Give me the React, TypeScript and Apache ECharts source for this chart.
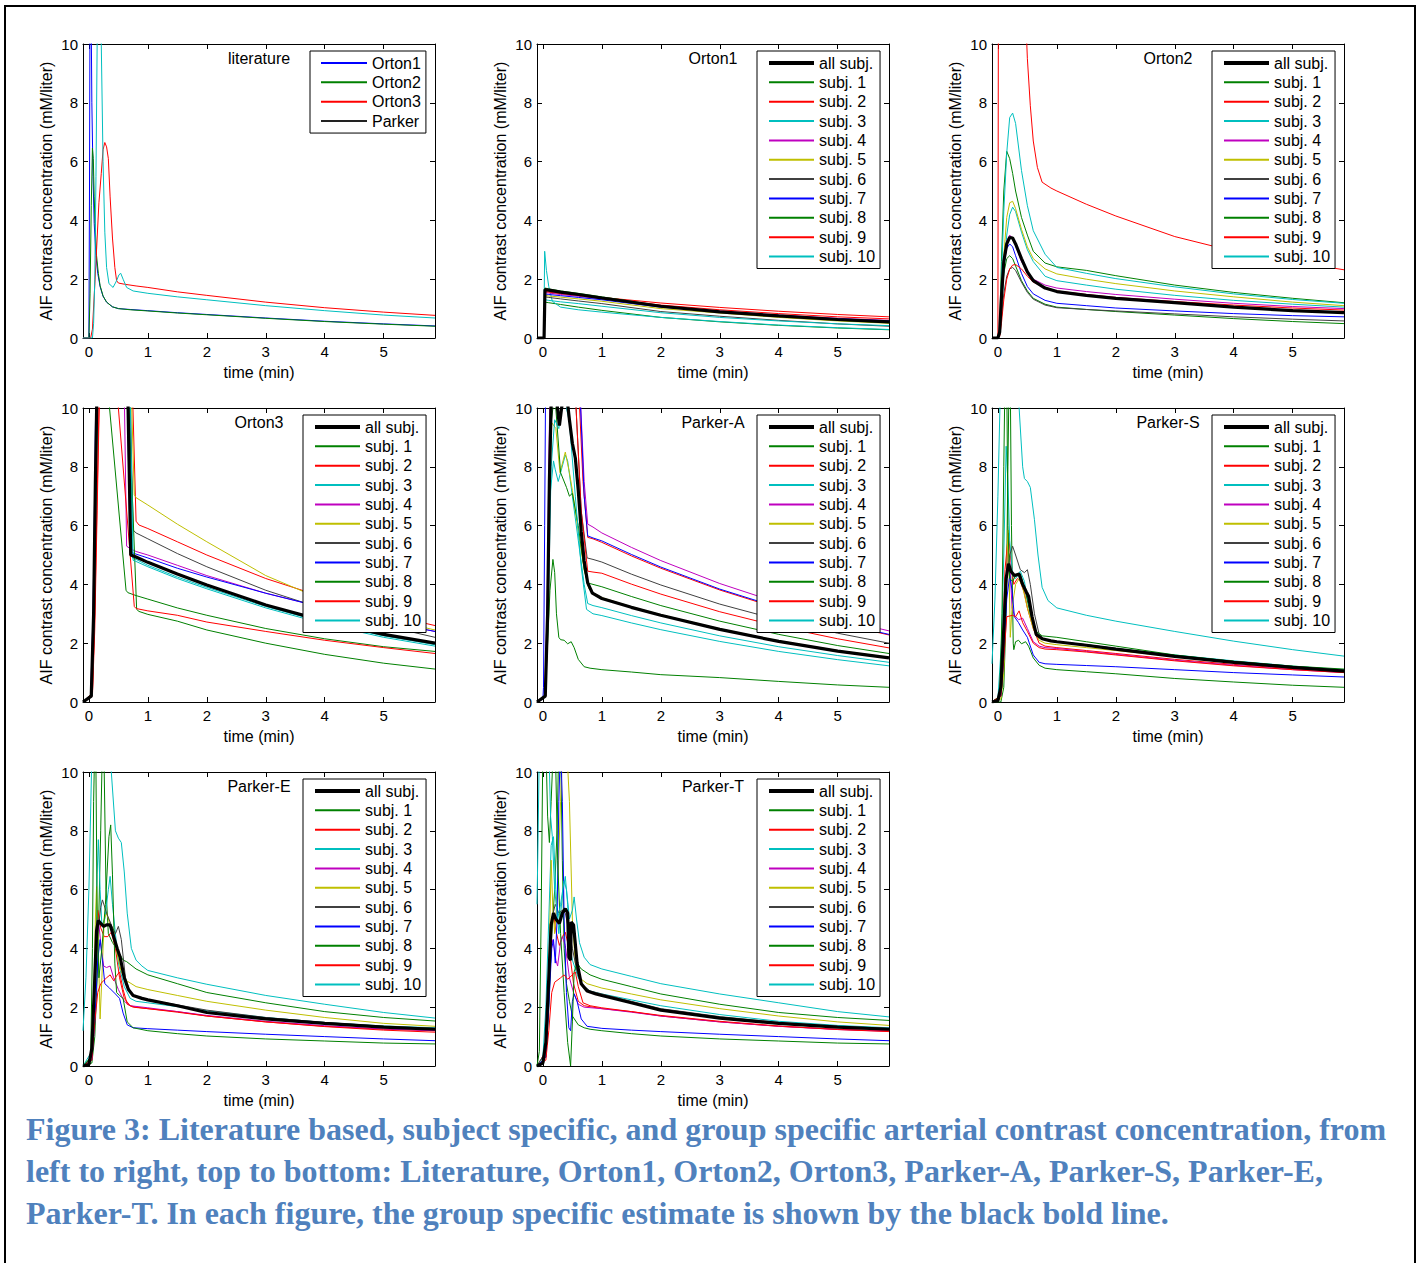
import React, { useEffect, useRef } from 'react';
import * as echarts from 'echarts';

type Pt = [number, number];

const FONT = '"Liberation Sans", Arial, Helvetica, sans-serif';
const SERIF = '"Liberation Serif", "Times New Roman", serif';

const PANEL_TITLES = ['literature', 'Orton1', 'Orton2', 'Orton3', 'Parker-A', 'Parker-S', 'Parker-E', 'Parker-T'];
const X_TICKS = [0, 1, 2, 3, 4, 5];
const X_NAME = 'time (min)';
const Y_NAME = 'AIF contrast concentration (mM/liter)';

const LIT_NAMES = ['Orton1', 'Orton2', 'Orton3', 'Parker'];
const LIT_COLORS = ['#0000ff', '#008000', '#ff0000', '#00bfbf'];
const SUBJ_NAMES = ['all subj.', 'subj. 1', 'subj. 2', 'subj. 3', 'subj. 4', 'subj. 5', 'subj. 6', 'subj. 7', 'subj. 8', 'subj. 9', 'subj. 10'];
const SUBJ_COLORS = ['#000000', '#008000', '#ff0000', '#00bfbf', '#bf00bf', '#bfbf00', '#404040', '#0000ff', '#008000', '#ff0000', '#00bfbf'];

const CAPTION = [
  'Figure 3: Literature based, subject specific, and group specific arterial contrast concentration, from',
  'left to right, top to bottom: Literature, Orton1, Orton2, Orton3, Parker-A, Parker-S, Parker-E,',
  'Parker-T. In each figure, the group specific estimate is shown by the black bold line.',
];

// ---------- literature ----------
const litOrton1: Pt[] = [[-0.1,0],[0,0],[0.01,5],[0.02,12],[0.035,12],[0.05,8],[0.07,5.5],[0.09,3.9],[0.12,2.8],[0.15,2.2],[0.19,1.75],[0.24,1.42],[0.3,1.22],[0.4,1.06],[0.5,1.0],[0.7,0.97],[1,0.93],[1.5,0.86],[2,0.8],[3,0.68],[4,0.57],[5,0.48],[5.87,0.41]];
const litOrton2: Pt[] = [[-0.1,0],[0,0],[0.02,1.5],[0.04,4.5],[0.06,6.45],[0.075,6.1],[0.09,4.8],[0.11,3.6],[0.13,2.8],[0.16,2.2],[0.19,1.78],[0.24,1.43],[0.3,1.22],[0.4,1.06],[0.5,1.0],[0.7,0.96],[1,0.92],[1.5,0.85],[2,0.79],[3,0.67],[4,0.56],[5,0.47],[5.87,0.4]];
const litOrton3: Pt[] = [[-0.1,0],[0.03,0],[0.06,0.3],[0.1,1.8],[0.13,3.0],[0.17,4.6],[0.21,5.6],[0.24,6.4],[0.27,6.65],[0.3,6.5],[0.33,6.1],[0.36,4.8],[0.4,3.4],[0.44,2.4],[0.47,1.95],[0.5,1.87],[0.6,1.83],[0.8,1.77],[1,1.72],[1.5,1.57],[2,1.45],[3,1.22],[4,1.03],[5,0.88],[5.87,0.77]];
const litParker: Pt[] = [[-0.1,0],[0.06,0],[0.08,0.5],[0.1,2.0],[0.12,5.5],[0.14,10],[0.16,13],[0.18,13],[0.21,10],[0.24,6],[0.27,3.6],[0.3,2.4],[0.34,1.85],[0.41,1.72],[0.47,1.95],[0.51,2.15],[0.54,2.2],[0.58,2.0],[0.64,1.72],[0.75,1.6],[1,1.52],[1.5,1.4],[2,1.3],[3,1.1],[4,0.93],[5,0.78],[5.87,0.68]];

// ---------- Orton1 (shared time grid) ----------
const ORTON1_T = [-0.1, 0.02, 0.035, 0.1, 0.3, 0.6, 1, 2, 3, 4, 5, 5.87];
const o1All = [0,0,1.65,1.63,1.56,1.48,1.36,1.08,0.89,0.75,0.63,0.55];
const o1S1 = [0,0,1.22,1.2,1.14,1.05,0.94,0.7,0.55,0.43,0.34,0.28];
const o1S2 = [0,0,1.6,1.59,1.54,1.47,1.38,1.19,1.04,0.91,0.8,0.72];
const o1S3: Pt[] = [[-0.1,0],[0.015,0],[0.03,2.95],[0.06,2.3],[0.1,1.75],[0.16,1.25],[0.3,1.05],[0.6,0.96],[1,0.88],[2,0.7],[3,0.56],[4,0.44],[5,0.35],[5.87,0.29]];
const o1S4 = [0,0,1.55,1.53,1.48,1.42,1.33,1.08,0.92,0.78,0.67,0.6];
const o1S5 = [0,0,1.45,1.43,1.39,1.33,1.25,1.0,0.85,0.7,0.58,0.5];
const o1S6 = [0,0,1.4,1.38,1.33,1.26,1.17,0.9,0.74,0.6,0.48,0.4];
const o1S7 = [0,0,1.5,1.48,1.44,1.38,1.3,1.05,0.9,0.76,0.65,0.58];
const o1S8 = [0,0,1.7,1.67,1.6,1.52,1.4,1.1,0.9,0.74,0.61,0.52];
const o1S9 = [0,0,1.58,1.56,1.51,1.45,1.36,1.12,0.96,0.83,0.72,0.65];
const o1S10 = [0,0,1.3,1.28,1.23,1.17,1.08,0.86,0.7,0.58,0.48,0.42];

// ---------- Orton2 (shared time grid) ----------
const ORTON2_T = [-0.1, 0, 0.03, 0.06, 0.1, 0.15, 0.2, 0.25, 0.3, 0.4, 0.5, 0.6, 0.8, 1, 1.5, 2, 3, 4, 5, 5.87];
const o2All = [0,0,0.2,1.4,2.6,3.2,3.42,3.4,3.2,2.7,2.25,1.95,1.7,1.58,1.45,1.35,1.2,1.05,0.93,0.86];
const o2S1 = [0,0,0.2,1.2,2.2,2.7,2.8,2.7,2.45,1.95,1.6,1.35,1.15,1.05,0.97,0.9,0.78,0.66,0.56,0.49];
const o2S2: Pt[] = [[-0.1,0],[0,0],[0.015,20],[0.45,12],[0.5,9.5],[0.55,7.9],[0.6,6.7],[0.67,5.8],[0.75,5.3],[0.9,5.1],[1,5.0],[1.5,4.55],[2,4.15],[3,3.45],[4,2.95],[5,2.6],[5.87,2.32]];
const o2S3 = [0,0,0.1,0.8,2.2,3.5,4.2,4.45,4.3,3.6,3.0,2.6,2.1,1.95,1.8,1.66,1.45,1.28,1.15,1.05];
const o2S4 = [0,0,0.2,1.4,2.6,3.3,3.5,3.4,3.15,2.6,2.25,2.0,1.8,1.7,1.58,1.48,1.32,1.18,1.07,1.0];
const o2S5 = [0,0,0.15,1.2,2.8,4.1,4.6,4.65,4.4,3.7,3.1,2.7,2.35,2.18,2.0,1.85,1.6,1.4,1.22,1.1];
const o2S6 = [0,0,0.1,0.7,1.5,2.1,2.35,2.4,2.3,1.9,1.55,1.32,1.12,1.03,0.97,0.92,0.82,0.72,0.64,0.58];
const o2S7 = [0,0,0.2,1.4,2.5,3.05,3.2,3.1,2.8,2.2,1.75,1.5,1.28,1.18,1.1,1.02,0.92,0.83,0.76,0.72];
const o2S8 = [0,0,0.3,2.6,5.0,6.35,6.1,5.6,5.0,4.1,3.5,2.95,2.55,2.42,2.3,2.12,1.8,1.55,1.35,1.2];
const o2S9 = [0,0,0.05,0.5,1.3,2.0,2.35,2.48,2.5,2.35,2.1,1.9,1.72,1.6,1.48,1.38,1.24,1.12,1.02,0.95];
const o2S10 = [0,0,0.2,2.0,4.3,6.3,7.5,7.65,7.3,5.7,4.5,3.65,2.85,2.4,2.2,2.02,1.74,1.5,1.31,1.18];

// ---------- Orton3 ----------
const o3All: Pt[] = [[-0.1,0],[0.04,0.2],[0.08,3],[0.11,7.5],[0.14,11],[0.4,15],[0.66,10.5],[0.71,5.0],[0.8,4.93],[1,4.75],[1.5,4.35],[2,3.98],[3,3.3],[4,2.75],[5,2.3],[5.87,2.0]];
const o3S1: Pt[] = [[-0.1,0],[0.05,0.3],[0.09,3],[0.12,7],[0.15,11],[0.2,13],[0.3,12],[0.35,10],[0.63,3.8],[0.66,3.72],[0.8,3.62],[1,3.5],[1.5,3.2],[2,2.95],[3,2.5],[4,2.15],[5,1.88],[5.87,1.72]];
const o3S2: Pt[] = [[-0.1,0],[0.06,0.2],[0.1,2.5],[0.14,6.5],[0.18,10.5],[0.3,14],[0.6,14],[0.74,10.5],[0.8,6.15],[0.85,6.02],[1,5.9],[1.5,5.45],[2,5.0],[3,4.2],[4,3.55],[5,3.0],[5.87,2.6]];
const o3S3: Pt[] = [[-0.1,0],[0.05,0.2],[0.09,3],[0.12,7.5],[0.15,11],[0.4,15],[0.69,10.5],[0.74,4.9],[0.8,4.85],[1,4.65],[1.5,4.25],[2,3.9],[3,3.25],[4,2.7],[5,2.25],[5.87,1.95]];
const o3S4: Pt[] = [[-0.1,0],[0.04,0.2],[0.08,3],[0.11,7.5],[0.14,11],[0.4,15],[0.6,10.5],[0.64,5.3],[0.7,5.22],[0.8,5.12],[1,5.0],[1.5,4.65],[2,4.3],[3,3.7],[4,3.2],[5,2.75],[5.87,2.4]];
const o3S5: Pt[] = [[-0.1,0],[0.04,0.2],[0.08,3],[0.11,7.5],[0.14,11],[0.4,15],[0.72,10.5],[0.77,7.05],[0.8,6.95],[1,6.7],[1.5,6.05],[2,5.45],[3,4.3],[4,3.45],[5,2.85],[5.87,2.45]];
const o3S6: Pt[] = [[-0.1,0],[0.04,0.2],[0.08,3],[0.11,7.5],[0.14,11],[0.4,15],[0.7,10.5],[0.75,5.85],[0.8,5.75],[1,5.55],[1.5,5.05],[2,4.6],[3,3.8],[4,3.15],[5,2.6],[5.87,2.2]];
const o3S7: Pt[] = [[-0.1,0],[0.03,0.2],[0.07,3],[0.1,7.5],[0.12,11],[0.4,15],[0.65,10.5],[0.7,5.1],[0.8,5.03],[1,4.9],[1.5,4.55],[2,4.25],[3,3.7],[4,3.2],[5,2.75],[5.87,2.4]];
const o3S8: Pt[] = [[-0.1,0],[0.05,0.3],[0.09,3],[0.12,7],[0.15,11],[0.3,15],[0.6,13],[0.68,10],[0.81,3.15],[0.85,3.08],[1,2.98],[1.5,2.75],[2,2.45],[3,2.0],[4,1.62],[5,1.32],[5.87,1.12]];
const o3S9: Pt[] = [[-0.1,0],[0.06,0.3],[0.1,3],[0.14,7],[0.18,11],[0.3,14],[0.45,12],[0.5,10],[0.77,3.25],[0.8,3.18],[1,3.1],[1.5,2.95],[2,2.72],[3,2.4],[4,2.1],[5,1.85],[5.87,1.65]];
const o3S10: Pt[] = [[-0.1,0],[0.05,0.2],[0.09,3],[0.12,7.5],[0.15,11],[0.4,15],[0.7,10.5],[0.75,4.82],[0.8,4.78],[1,4.6],[1.5,4.2],[2,3.85],[3,3.2],[4,2.65],[5,2.2],[5.87,1.9]];

// ---------- Parker-A ----------
const paAll: Pt[] = [[-0.1,0],[0.04,0.2],[0.08,3],[0.11,7.5],[0.15,11],[0.22,10.5],[0.28,9.4],[0.33,10.2],[0.4,10.5],[0.45,9.6],[0.5,8.8],[0.55,8.3],[0.6,7.2],[0.65,5.8],[0.7,4.8],[0.76,4.05],[0.84,3.7],[1,3.52],[1.5,3.22],[2,2.95],[3,2.47],[4,2.06],[5,1.73],[5.87,1.5]];
const paS1: Pt[] = [[-0.1,0],[0.03,0.2],[0.08,2],[0.12,3.8],[0.17,4.85],[0.2,4.4],[0.23,3.0],[0.27,2.2],[0.3,2.12],[0.36,2.1],[0.42,1.98],[0.48,2.05],[0.53,1.85],[0.6,1.45],[0.7,1.2],[0.8,1.15],[1,1.1],[1.5,1.02],[2,0.93],[3,0.83],[4,0.7],[5,0.58],[5.87,0.5]];
const paS2: Pt[] = [[-0.1,0],[0.04,0.2],[0.08,3.5],[0.11,8],[0.14,12],[0.4,15],[0.6,11],[0.68,7.5],[0.76,5.6],[0.85,5.55],[1,5.43],[1.5,4.97],[2,4.55],[3,3.81],[4,3.18],[5,2.67],[5.87,2.28]];
const paS3: Pt[] = [[-0.1,0],[0.04,0.2],[0.08,3],[0.12,7],[0.18,8.2],[0.21,7.9],[0.26,7.5],[0.3,7.8],[0.38,8.4],[0.42,8.2],[0.5,7.0],[0.6,5.5],[0.7,4.0],[0.76,3.35],[0.85,3.28],[1,3.21],[1.5,2.94],[2,2.69],[3,2.25],[4,1.88],[5,1.58],[5.87,1.35]];
const paS4: Pt[] = [[-0.1,0],[0.03,0.2],[0.07,3],[0.1,8],[0.13,12],[0.4,15],[0.62,11],[0.7,7.5],[0.76,6.05],[0.85,5.95],[1,5.75],[1.5,5.26],[2,4.81],[3,4.03],[4,3.37],[5,2.82],[5.87,2.42]];
const paS5: Pt[] = [[-0.1,0],[0.04,0.2],[0.08,3],[0.11,7],[0.15,9.5],[0.22,9.3],[0.29,7.8],[0.38,8.5],[0.45,7.8],[0.5,7.2],[0.6,5.8],[0.7,4.5],[0.78,3.85],[0.85,3.72],[1,3.55],[1.5,3.24],[2,2.97],[3,2.49],[4,2.08],[5,1.75],[5.87,1.52]];
const paS6: Pt[] = [[-0.1,0],[0.04,0.2],[0.08,3.5],[0.11,8],[0.14,12],[0.35,14],[0.55,10.5],[0.65,6.5],[0.75,4.9],[0.85,4.85],[1,4.76],[1.5,4.35],[2,3.98],[3,3.33],[4,2.79],[5,2.34],[5.87,2.0]];
const paS7: Pt[] = [[-0.1,0],[0,0.1],[0.01,0.5],[0.03,6],[0.05,12],[0.4,15],[0.62,11],[0.7,7],[0.76,5.65],[0.85,5.58],[1,5.48],[1.5,5.02],[2,4.59],[3,3.84],[4,3.21],[5,2.69],[5.87,2.3]];
const paS8: Pt[] = [[-0.1,0],[0.04,0.2],[0.08,3],[0.11,7],[0.14,9.5],[0.2,10.5],[0.3,7.8],[0.4,7.3],[0.45,7.0],[0.5,7.1],[0.6,6.0],[0.7,4.5],[0.76,4.05],[0.85,4.0],[1,3.92],[1.5,3.59],[2,3.28],[3,2.75],[4,2.3],[5,1.92],[5.87,1.65]];
const paS9: Pt[] = [[-0.1,0],[0.05,0.2],[0.09,3.5],[0.12,8],[0.15,12],[0.35,14],[0.55,10.5],[0.65,6.5],[0.76,4.45],[0.85,4.42],[1,4.38],[1.5,4.01],[2,3.67],[3,3.07],[4,2.57],[5,2.15],[5.87,1.84]];
const paS10: Pt[] = [[-0.1,0],[0.04,0.2],[0.09,3],[0.14,8],[0.2,9.6],[0.27,9.3],[0.35,10.5],[0.45,9.5],[0.55,7],[0.65,4.6],[0.74,3.15],[0.85,3.0],[1,2.94],[1.5,2.69],[2,2.46],[3,2.06],[4,1.72],[5,1.44],[5.87,1.23]];

// ---------- Parker-S ----------
const psAll: Pt[] = [[-0.1,0],[0,0.05],[0.05,0.5],[0.1,2.5],[0.14,4.2],[0.18,4.7],[0.22,4.45],[0.28,4.3],[0.36,4.35],[0.42,4.0],[0.48,3.75],[0.52,3.6],[0.58,2.9],[0.65,2.3],[0.75,2.15],[0.9,2.08],[1,2.05],[1.5,1.93],[2,1.8],[3,1.55],[4,1.35],[5,1.18],[5.87,1.05]];
const psS1: Pt[] = [[-0.1,0],[0.05,0],[0.1,0.5],[0.14,3],[0.17,8],[0.19,11],[0.21,11],[0.23,6],[0.26,2],[0.27,1.78],[0.3,2.05],[0.35,2.1],[0.4,1.98],[0.47,2.05],[0.52,1.9],[0.6,1.5],[0.7,1.25],[0.8,1.15],[1,1.1],[1.5,1.03],[2,0.96],[3,0.8],[4,0.68],[5,0.57],[5.87,0.5]];
const psS2: Pt[] = [[-0.1,0],[0.03,0.2],[0.08,2],[0.12,4.5],[0.18,5.75],[0.22,4.8],[0.27,4.0],[0.33,4.2],[0.38,4.1],[0.45,3.7],[0.5,3.2],[0.6,2.5],[0.7,2.0],[0.8,1.9],[1,1.85],[1.5,1.75],[2,1.65],[3,1.45],[4,1.28],[5,1.13],[5.87,1.03]];
const psS3: Pt[] = [[-0.1,0],[0,0.1],[0.06,2],[0.1,5],[0.14,8.7],[0.17,7.5],[0.2,5.5],[0.25,4.3],[0.3,4.2],[0.38,4.45],[0.45,4.1],[0.5,3.5],[0.6,2.6],[0.7,2.2],[0.8,2.1],[1,2.05],[1.5,1.95],[2,1.82],[3,1.6],[4,1.4],[5,1.22],[5.87,1.1]];
const psS4: Pt[] = [[-0.1,0],[0.04,0.2],[0.08,1],[0.12,3.5],[0.17,5.2],[0.2,4.8],[0.24,3.2],[0.28,2.95],[0.35,2.8],[0.42,2.85],[0.5,2.5],[0.6,2.05],[0.7,1.9],[0.8,1.85],[1,1.82],[1.5,1.72],[2,1.62],[3,1.42],[4,1.25],[5,1.1],[5.87,1.0]];
const psS5: Pt[] = [[-0.1,0],[0.05,0.1],[0.1,1],[0.14,3.5],[0.17,5.85],[0.19,4.5],[0.21,2.2],[0.24,3.2],[0.3,4.0],[0.36,4.2],[0.42,3.9],[0.5,3.2],[0.6,2.5],[0.7,2.1],[0.8,2.0],[1,1.95],[1.5,1.85],[2,1.75],[3,1.55],[4,1.38],[5,1.2],[5.87,1.06]];
const psS6: Pt[] = [[-0.1,0],[0.05,0.2],[0.1,2],[0.15,4.2],[0.2,5.0],[0.25,5.3],[0.3,5.0],[0.38,4.5],[0.45,4.4],[0.5,4.5],[0.55,4.0],[0.62,3.0],[0.7,2.3],[0.8,2.1],[1,2.05],[1.5,1.95],[2,1.82],[3,1.58],[4,1.38],[5,1.2],[5.87,1.08]];
const psS7: Pt[] = [[-0.1,0],[0.05,0.2],[0.1,1.5],[0.15,3.5],[0.2,4.3],[0.24,3.8],[0.28,2.9],[0.35,2.7],[0.42,2.45],[0.5,2.2],[0.6,1.6],[0.7,1.35],[0.8,1.3],[1,1.28],[1.5,1.24],[2,1.2],[3,1.1],[4,1.0],[5,0.92],[5.87,0.85]];
const psS8: Pt[] = [[-0.1,0],[0.03,0.2],[0.07,3],[0.1,8],[0.12,11],[0.15,11],[0.17,6],[0.2,4.2],[0.25,4.1],[0.3,4.3],[0.38,4.35],[0.45,3.9],[0.55,3.0],[0.65,2.4],[0.75,2.25],[1,2.2],[1.5,2.05],[2,1.9],[3,1.6],[4,1.38],[5,1.22],[5.87,1.12]];
const psS9: Pt[] = [[-0.1,0],[0.05,0.2],[0.1,1.5],[0.15,2.9],[0.25,2.95],[0.3,2.9],[0.36,3.1],[0.42,2.7],[0.5,2.4],[0.6,2.0],[0.7,1.85],[0.8,1.8],[1,1.78],[1.5,1.7],[2,1.6],[3,1.4],[4,1.23],[5,1.1],[5.87,1.0]];
const psS10: Pt[] = [[-0.1,1.3],[-0.05,3.5],[0,7],[0.04,10.5],[0.1,14],[0.3,13],[0.36,10],[0.42,8],[0.45,7.6],[0.5,7.5],[0.55,7.3],[0.62,6.2],[0.68,5.0],[0.75,3.9],[0.85,3.45],[1,3.2],[1.5,2.95],[2,2.75],[3,2.4],[4,2.07],[5,1.78],[5.87,1.56]];

// ---------- Parker-E ----------
const peAll: Pt[] = [[-0.1,0],[0,0.05],[0.05,0.6],[0.1,3.0],[0.13,4.6],[0.16,4.95],[0.2,4.85],[0.25,4.75],[0.3,4.8],[0.36,4.8],[0.42,4.4],[0.48,4.0],[0.53,3.7],[0.6,3.0],[0.67,2.6],[0.75,2.4],[0.9,2.3],[1,2.25],[1.5,2.05],[2,1.82],[3,1.6],[4,1.45],[5,1.32],[5.87,1.25]];
const peS1: Pt[] = [[-0.1,0],[0.05,0.1],[0.1,1],[0.15,3.5],[0.2,8],[0.23,11],[0.26,10],[0.29,6],[0.33,4.5],[0.4,4.2],[0.5,3.9],[0.58,3.6],[0.64,3.55],[0.8,3.3],[1,3.1],[1.5,2.8],[2,2.5],[3,2.15],[4,1.85],[5,1.65],[5.87,1.53]];
const peS2: Pt[] = [[-0.1,0],[0.05,0.3],[0.1,3],[0.13,5.0],[0.15,5.3],[0.2,4.7],[0.26,4.4],[0.32,4.4],[0.38,4.55],[0.45,4.0],[0.52,3.0],[0.6,2.3],[0.7,2.05],[0.8,2.0],[1,1.95],[1.5,1.85],[2,1.7],[3,1.5],[4,1.35],[5,1.25],[5.87,1.2]];
const peS3: Pt[] = [[-0.1,0],[0.05,0.5],[0.1,3],[0.14,6.5],[0.16,7.7],[0.19,6.0],[0.22,4.8],[0.27,5.0],[0.33,6.0],[0.36,6.45],[0.4,5.5],[0.45,4.5],[0.5,3.5],[0.6,2.7],[0.7,2.3],[0.8,2.2],[1,2.15],[1.5,2.02],[2,1.88],[3,1.65],[4,1.48],[5,1.36],[5.87,1.3]];
const peS4: Pt[] = [[-0.1,0],[0.05,0.3],[0.1,2.5],[0.14,4.8],[0.16,5.0],[0.2,4.2],[0.25,3.4],[0.3,3.35],[0.36,3.4],[0.42,3.0],[0.5,2.6],[0.6,2.2],[0.7,2.05],[1,1.98],[1.5,1.85],[2,1.72],[3,1.52],[4,1.37],[5,1.26],[5.87,1.2]];
const peS5: Pt[] = [[-0.1,0],[0.05,0.2],[0.08,2],[0.11,5],[0.13,6.1],[0.16,4],[0.19,1.6],[0.22,3],[0.26,5.0],[0.3,5.2],[0.36,4.8],[0.42,4.5],[0.48,3.8],[0.55,3.2],[0.64,2.9],[0.8,2.7],[1,2.6],[1.5,2.4],[2,2.2],[3,1.9],[4,1.65],[5,1.45],[5.87,1.35]];
const peS6: Pt[] = [[-0.1,0],[0.05,0.3],[0.1,2.5],[0.15,4.5],[0.2,5.4],[0.23,5.65],[0.3,5.2],[0.38,4.8],[0.45,4.5],[0.5,4.75],[0.55,4.3],[0.62,3.0],[0.7,2.5],[0.8,2.35],[1,2.25],[1.5,2.08],[2,1.9],[3,1.65],[4,1.48],[5,1.35],[5.87,1.28]];
const peS7: Pt[] = [[-0.1,0],[0.05,0.2],[0.1,1.5],[0.15,3.6],[0.19,4.3],[0.23,3.6],[0.27,2.8],[0.35,2.65],[0.45,2.45],[0.52,2.3],[0.58,1.8],[0.65,1.4],[0.75,1.3],[1,1.27],[1.5,1.22],[2,1.17],[3,1.08],[4,1.0],[5,0.92],[5.87,0.86]];
const peS8: Pt[] = [[-0.1,0],[0.03,0.3],[0.06,4],[0.08,9],[0.1,11],[0.12,10],[0.14,5],[0.17,3],[0.22,4],[0.28,5.5],[0.34,7.8],[0.37,8.2],[0.4,6.5],[0.44,3.5],[0.47,2.5],[0.52,2.4],[0.58,2.3],[0.65,1.5],[0.75,1.3],[1,1.2],[1.5,1.1],[2,1.02],[3,0.92],[4,0.85],[5,0.78],[5.87,0.75]];
const peS9: Pt[] = [[-0.1,0],[0.05,0.2],[0.1,1.5],[0.15,2.5],[0.2,2.8],[0.3,3.0],[0.36,3.1],[0.42,2.9],[0.48,3.1],[0.52,3.2],[0.58,2.6],[0.65,2.1],[0.75,2.0],[1,1.95],[1.5,1.83],[2,1.7],[3,1.5],[4,1.34],[5,1.22],[5.87,1.15]];
const peS10: Pt[] = [[-0.1,1.2],[-0.05,3],[0,6],[0.05,10.5],[0.1,14],[0.3,13],[0.38,10],[0.45,8.0],[0.5,7.75],[0.55,7.6],[0.6,6.6],[0.65,5.2],[0.72,4.0],[0.8,3.6],[0.9,3.4],[1,3.25],[1.5,3.0],[2,2.78],[3,2.4],[4,2.1],[5,1.82],[5.87,1.63]];

// ---------- Parker-T ----------
const ptAll: Pt[] = [[-0.1,0],[0,0.1],[0.05,0.8],[0.1,3],[0.14,4.8],[0.18,5.2],[0.22,5.0],[0.28,4.85],[0.33,5.2],[0.38,5.35],[0.42,5.2],[0.44,3.7],[0.47,3.6],[0.48,4.9],[0.52,4.8],[0.58,3.5],[0.65,2.8],[0.75,2.55],[0.9,2.45],[1,2.4],[1.5,2.15],[2,1.9],[3,1.63],[4,1.45],[5,1.32],[5.87,1.25]];
const ptS1: Pt[] = [[-0.1,0],[0.05,0.3],[0.1,2],[0.15,4.5],[0.2,6],[0.24,8],[0.27,11],[0.3,11],[0.33,7],[0.36,4],[0.4,2.8],[0.45,2.2],[0.5,1.7],[0.6,1.4],[0.7,1.3],[0.8,1.25],[1,1.2],[1.5,1.1],[2,1.02],[3,0.92],[4,0.85],[5,0.78],[5.87,0.75]];
const ptS2: Pt[] = [[-0.1,0],[0.05,0.5],[0.1,3],[0.14,4.8],[0.18,5.2],[0.22,4.6],[0.28,4.1],[0.33,4.4],[0.38,4.55],[0.42,4.2],[0.47,3.6],[0.52,2.8],[0.6,2.2],[0.7,2.05],[1,1.95],[1.5,1.85],[2,1.7],[3,1.5],[4,1.35],[5,1.25],[5.87,1.2]];
const ptS3: Pt[] = [[-0.1,0],[0,0.3],[0.05,2],[0.1,5],[0.14,7.5],[0.18,7.8],[0.22,6],[0.27,4.5],[0.33,5.8],[0.38,6.45],[0.42,5.5],[0.46,4.0],[0.5,3.6],[0.6,3.0],[0.7,2.7],[0.8,2.55],[1,2.45],[1.5,2.25],[2,2.05],[3,1.75],[4,1.52],[5,1.38],[5.87,1.3]];
const ptS4: Pt[] = [[-0.1,0],[0.05,0.3],[0.1,2.5],[0.14,4.0],[0.17,4.3],[0.22,3.6],[0.25,3.4],[0.3,4.2],[0.33,4.4],[0.38,4.1],[0.45,3.0],[0.52,2.5],[0.6,2.1],[0.7,2.0],[1,1.95],[1.5,1.83],[2,1.7],[3,1.5],[4,1.35],[5,1.24],[5.87,1.18]];
const ptS5: Pt[] = [[-0.1,0],[0.05,0.3],[0.1,3],[0.14,7],[0.17,5.3],[0.2,4.5],[0.25,6],[0.3,9],[0.34,11],[0.4,11],[0.45,9],[0.5,5],[0.55,3.5],[0.62,3.0],[0.75,2.8],[1,2.65],[1.5,2.45],[2,2.25],[3,1.95],[4,1.7],[5,1.5],[5.87,1.38]];
const ptS6: Pt[] = [[-0.1,0],[0.05,0.5],[0.1,3],[0.15,5],[0.21,5.5],[0.27,5.2],[0.33,5.3],[0.38,5.2],[0.45,4.5],[0.5,4.0],[0.58,3.2],[0.65,2.8],[0.8,2.55],[1,2.45],[1.5,2.2],[2,1.95],[3,1.68],[4,1.48],[5,1.35],[5.87,1.28]];
const ptS7: Pt[] = [[-0.1,0],[0.05,0.3],[0.1,2],[0.15,4.0],[0.18,4.3],[0.21,3.5],[0.24,5],[0.27,9],[0.3,11],[0.33,9],[0.36,5],[0.4,2.5],[0.44,1.3],[0.47,1.2],[0.5,2.2],[0.53,2.45],[0.58,2.2],[0.65,1.6],[0.75,1.35],[1,1.28],[1.5,1.22],[2,1.17],[3,1.08],[4,1.0],[5,0.92],[5.87,0.86]];
const ptS8: Pt[] = [[-0.1,0],[-0.06,0.5],[-0.03,5],[0,11],[0.05,11],[0.08,8.5],[0.11,7.6],[0.14,9],[0.18,11],[0.22,10],[0.25,7],[0.3,4.5],[0.36,2.5],[0.42,0.8],[0.47,0],[0.5,1.5],[0.53,3.2],[0.58,3.5],[0.65,3.3],[0.8,3.1],[1,2.95],[1.5,2.7],[2,2.45],[3,2.1],[4,1.82],[5,1.65],[5.87,1.55]];
const ptS9: Pt[] = [[-0.1,0],[0.05,0.2],[0.1,1.2],[0.15,2.5],[0.2,2.85],[0.3,3.0],[0.36,3.1],[0.42,2.95],[0.5,3.1],[0.55,3.2],[0.6,2.7],[0.68,2.15],[0.8,2.05],[1,1.98],[1.5,1.85],[2,1.72],[3,1.52],[4,1.36],[5,1.24],[5.87,1.17]];
const ptS10: Pt[] = [[-0.1,5.5],[-0.08,8],[-0.06,11],[0.05,13],[0.1,11],[0.13,8.5],[0.16,7.8],[0.2,6.0],[0.25,5.0],[0.3,5.5],[0.36,6.3],[0.4,6.0],[0.45,5.0],[0.5,5.3],[0.53,5.75],[0.57,5.0],[0.62,4.2],[0.7,3.7],[0.8,3.45],[1,3.3],[1.5,3.05],[2,2.8],[3,2.45],[4,2.15],[5,1.85],[5.87,1.67]];

// ---------- layout ----------
const COL_LEFT = [83, 537, 992];
const ROW_TOP = [44, 408, 772];
const GRID_W = 352;
const GRID_H = 294;

function zip(t: number[], v: number[]): Pt[] {
  return t.map((x, i) => [x, v[i]] as Pt);
}

const SUBJ_ORDER = [1, 2, 3, 4, 5, 6, 7, 8, 9, 10, 0];

const PANEL_CURVES: Pt[][][] = [
  [litOrton1, litOrton2, litOrton3, litParker],
  [zip(ORTON1_T, o1All), zip(ORTON1_T, o1S1), zip(ORTON1_T, o1S2), o1S3, zip(ORTON1_T, o1S4), zip(ORTON1_T, o1S5), zip(ORTON1_T, o1S6), zip(ORTON1_T, o1S7), zip(ORTON1_T, o1S8), zip(ORTON1_T, o1S9), zip(ORTON1_T, o1S10)],
  [zip(ORTON2_T, o2All), zip(ORTON2_T, o2S1), o2S2, zip(ORTON2_T, o2S3), zip(ORTON2_T, o2S4), zip(ORTON2_T, o2S5), zip(ORTON2_T, o2S6), zip(ORTON2_T, o2S7), zip(ORTON2_T, o2S8), zip(ORTON2_T, o2S9), zip(ORTON2_T, o2S10)],
  [o3All, o3S1, o3S2, o3S3, o3S4, o3S5, o3S6, o3S7, o3S8, o3S9, o3S10],
  [paAll, paS1, paS2, paS3, paS4, paS5, paS6, paS7, paS8, paS9, paS10],
  [psAll, psS1, psS2, psS3, psS4, psS5, psS6, psS7, psS8, psS9, psS10],
  [peAll, peS1, peS2, peS3, peS4, peS5, peS6, peS7, peS8, peS9, peS10],
  [ptAll, ptS1, ptS2, ptS3, ptS4, ptS5, ptS6, ptS7, ptS8, ptS9, ptS10],
];

function buildOption() {
  const grid: any[] = [];
  const xAxis: any[] = [];
  const yAxis: any[] = [];
  const series: any[] = [];
  const legend: any[] = [];
  const graphic: any[] = [];

  const axisLine = { show: true, onZero: false, lineStyle: { color: '#000', width: 1 } };
  const tick = { show: true, inside: true, length: 5, lineStyle: { color: '#000', width: 1 } };

  PANEL_TITLES.forEach((title, p) => {
    const col = p % 3;
    const row = Math.floor(p / 3);
    const left = COL_LEFT[col];
    const top = ROW_TOP[row];
    grid.push({ left, top, width: GRID_W, height: GRID_H, show: false, outerBoundsMode: 'none' });

    xAxis.push({
      type: 'value', gridIndex: p, min: -0.1, max: 5.87, position: 'bottom',
      axisLine, axisTick: { ...tick, customValues: X_TICKS },
      axisLabel: { customValues: X_TICKS, fontSize: 15, color: '#000', fontFamily: FONT, margin: 6 },
      splitLine: { show: false },
      name: X_NAME, nameLocation: 'middle', nameGap: 26,
      nameTextStyle: { fontSize: 16, color: '#000', fontFamily: FONT },
    });
    xAxis.push({
      type: 'value', gridIndex: p, min: -0.1, max: 5.87, position: 'top',
      axisLine, axisTick: { ...tick, customValues: X_TICKS },
      axisLabel: { show: false }, splitLine: { show: false },
    });
    yAxis.push({
      type: 'value', gridIndex: p, min: 0, max: 10, interval: 2, position: 'left',
      axisLine, axisTick: tick,
      axisLabel: { fontSize: 15, color: '#000', fontFamily: FONT, margin: 5 },
      splitLine: { show: false },
      name: Y_NAME, nameLocation: 'middle', nameGap: 29,
      nameTextStyle: { fontSize: 16, color: '#000', fontFamily: FONT },
    });
    yAxis.push({
      type: 'value', gridIndex: p, min: 0, max: 10, interval: 2, position: 'right',
      axisLine, axisTick: tick, axisLabel: { show: false }, splitLine: { show: false },
    });

    const curves = PANEL_CURVES[p];
    const isLit = p === 0;
    const names = isLit ? LIT_NAMES : SUBJ_NAMES;
    const colors = isLit ? LIT_COLORS : SUBJ_COLORS;
    const order = isLit ? [0, 1, 2, 3] : SUBJ_ORDER;
    order.forEach((k) => {
      const bold = !isLit && k === 0;
      series.push({
        type: 'line', name: names[k], xAxisIndex: 2 * p, yAxisIndex: 2 * p,
        data: curves[k], symbol: 'none', showSymbol: false, clip: true, silent: true,
        lineStyle: { color: colors[k], width: bold ? 3.2 : 1 },
        itemStyle: { color: colors[k] },
        emphasis: { disabled: true }, z: bold ? 3 : 2,
      });
    });

    const legendData = isLit
      ? [{ name: 'Orton1' }, { name: 'Orton2' }, { name: 'Orton3' }, { name: 'Parker', lineStyle: { color: '#222' } }]
      : SUBJ_NAMES.map((n, k) => (k === 0 ? { name: n, lineStyle: { width: 4 } } : { name: n }));
    legend.push({
      left: isLit ? 310 : left + 220, top: top + 7, orient: 'vertical',
      data: legendData, selectedMode: false,
      itemWidth: isLit ? 46 : 45, itemHeight: 10, itemGap: 3.35,
      itemStyle: { opacity: 0 },
      padding: [4, 5, 4, 10],
      borderColor: '#000', borderWidth: 1, backgroundColor: '#fff',
      textStyle: { fontSize: 16, color: '#000', fontFamily: FONT, lineHeight: 16 },
    });

    graphic.push({
      type: 'text', x: left + 176, y: top + 14, silent: true,
      style: { text: title, fontSize: 16, fontFamily: FONT, fill: '#000', align: 'center', verticalAlign: 'middle' },
    });
  });

  graphic.push({
    type: 'rect', silent: true,
    shape: { x: 5, y: 6, width: 1410, height: 1280 },
    style: { fill: 'none', stroke: '#000', lineWidth: 2 },
  });
  CAPTION.forEach((line, i) => {
    graphic.push({
      type: 'text', x: 26, y: 1129 + i * 42, silent: true,
      style: { text: line, fontSize: 32, fontWeight: 'bold', fontFamily: SERIF, fill: '#4f81bd', align: 'left', verticalAlign: 'middle' },
    });
  });

  return {
    animation: false,
    backgroundColor: '#fff',
    grid, xAxis, yAxis, series, legend, graphic,
  };
}

export default function App() {
  const ref = useRef<HTMLDivElement>(null);
  useEffect(() => {
    if (!ref.current) return;
    const chart = echarts.init(ref.current, undefined, { renderer: 'svg' });
    chart.setOption(buildOption() as any);
    return () => chart.dispose();
  }, []);
  return (
    <div
      ref={ref}
      style={{ position: 'absolute', left: 0, top: 0, width: 1420, height: 1263, background: '#fff' }}
    />
  );
}
